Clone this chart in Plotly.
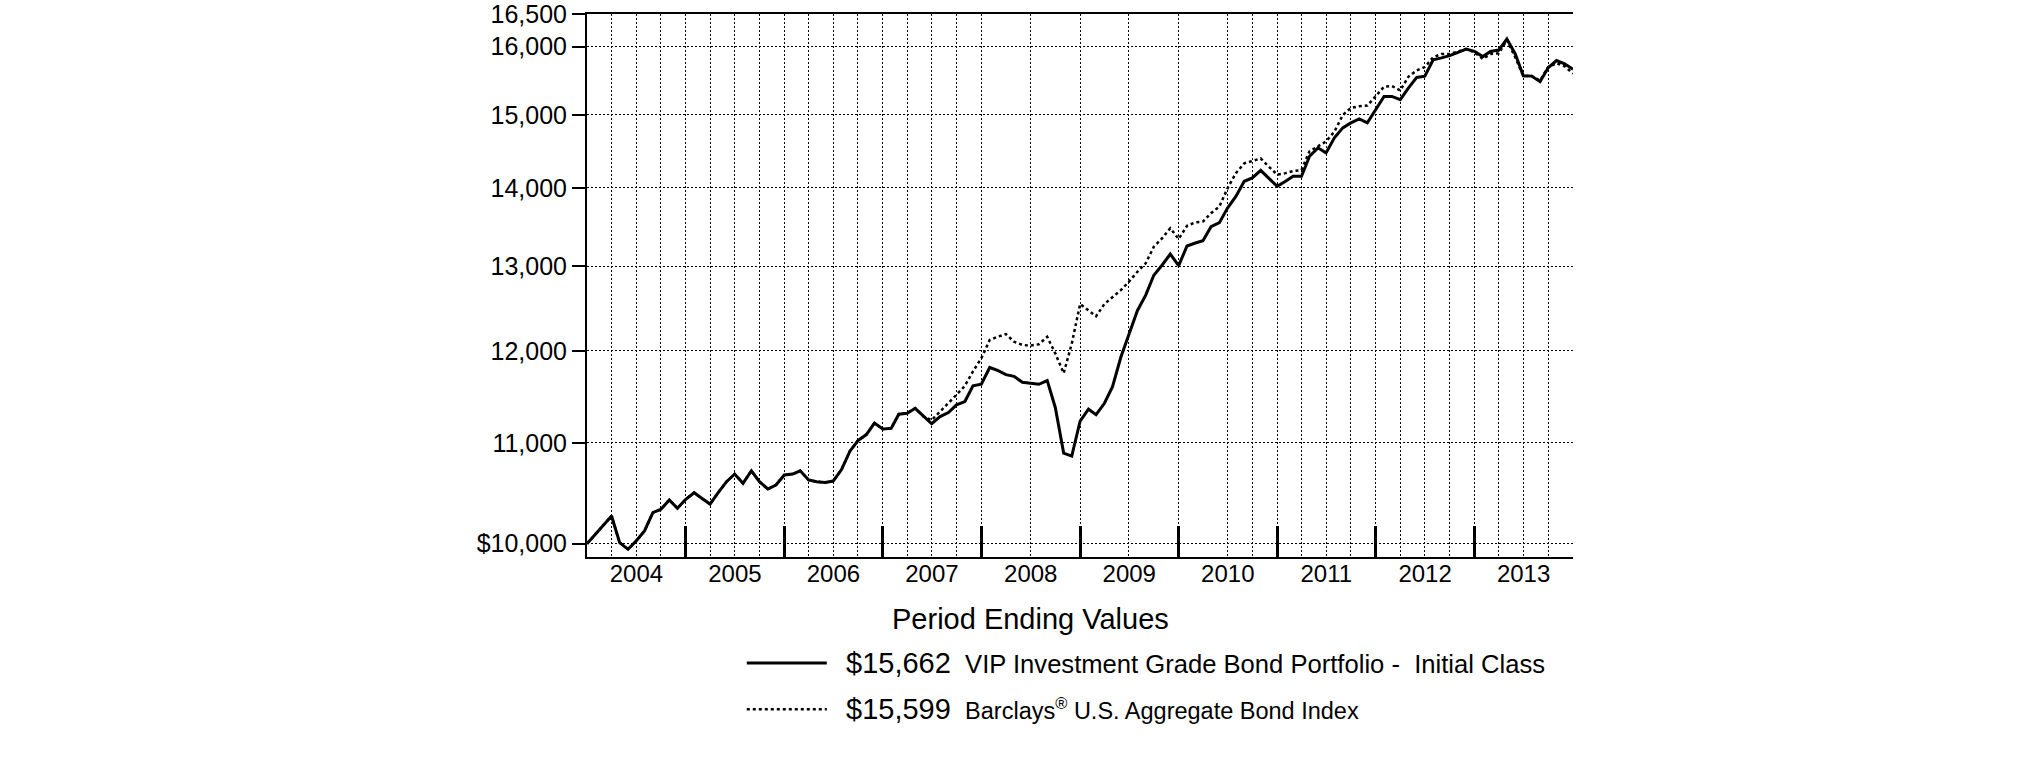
import plotly.graph_objects as go
import pandas as pd

# ---- data (month-end values, Dec 2003 .. Dec 2013) ----
dates = pd.date_range("2003-12-31", "2013-12-31", freq="ME")

fund = [10000, 10090, 10180, 10266, 10010, 9947, 10025, 10121, 10298, 10331, 10422, 10341,
        10429, 10494, 10439, 10382, 10494, 10604, 10681, 10588, 10714, 10604, 10531, 10571,
        10671, 10681, 10714, 10621, 10604, 10595, 10610, 10726, 10914, 11024, 11087, 11208,
        11145, 11152, 11302, 11313, 11366, 11277, 11201, 11277, 11320, 11403, 11439, 11610,
        11629, 11813, 11780, 11733, 11714, 11649, 11640, 11627, 11668, 11375, 10895, 10864,
        11230, 11356, 11297, 11420, 11600, 11930, 12190, 12465, 12650, 12889, 13015, 13151,
        13007, 13251, 13285, 13318, 13496, 13547, 13734, 13887, 14087, 14133, 14233, 14133,
        14020, 14087, 14155, 14155, 14425, 14540, 14471, 14678, 14817, 14887, 14943, 14887,
        15075, 15264, 15264, 15217, 15384, 15541, 15560, 15801, 15831, 15864, 15913, 15963,
        15928, 15850, 15928, 15948, 16116, 15889, 15565, 15560, 15479, 15683, 15790, 15742,
        15662]

index = fund[:42] + [
        11240, 11331, 11414, 11512, 11610, 11770,
        11917, 12124, 12161, 12192, 12105, 12068, 12060, 12075, 12161, 11972, 11749, 12082,
        12544, 12468, 12400, 12544, 12630, 12710, 12812, 12932, 13036, 13242, 13349, 13476,
        13340, 13506, 13548, 13561, 13669, 13755, 13993, 14196, 14328, 14358, 14394, 14283,
        14177, 14196, 14224, 14237, 14493, 14561, 14628, 14764, 14997, 15099, 15122, 15132,
        15264, 15406, 15416, 15349, 15550, 15645, 15694, 15840, 15889, 15889, 15928, 15963,
        15913, 15815, 15889, 15898, 16101, 15840, 15560, 15560, 15494, 15694, 15752, 15705,
        15599]

years = list(range(2004, 2014))
year_labels = [str(y) for y in years]
year_mid = [f"{y}-07-01" for y in years]
year_bounds = [f"{y - 1}-12-31" for y in years]

# vertical dotted grid positions (quarter ends as drawn in the original)
grid_dates = (["2004-03-31", "2004-06-30", "2004-09-30"] +
              [f"{y}-{md}" for y in (2005, 2006, 2007) for md in ("03-31", "06-30", "09-30")] +
              ["2008-06-30", "2009-06-30", "2010-06-30", "2010-09-30"] +
              [f"{y}-{md}" for y in (2011, 2012, 2013) for md in ("03-31", "06-30", "09-30")])

y_tickvals = [10000, 11000, 12000, 13000, 14000, 15000, 16000, 16500]
y_ticktext = ["$10,000", "11,000", "12,000", "13,000", "14,000", "15,000", "16,000", "16,500"]

fund_label = "$15,662"
index_label = "$15,599"
fund_name = "VIP Investment Grade Bond Portfolio -&nbsp; Initial Class"
index_name = "Barclays<sup>®</sup> U.S. Aggregate Bond Index"

FONT = "Liberation Sans, Arial, Helvetica, sans-serif"

fig = go.Figure()
fig.add_trace(go.Scatter(
    x=dates, y=fund, mode="lines",
    line=dict(color="black", width=3),
    name=f'&nbsp;&nbsp;<span style="font-size:29px">{fund_label}</span>&nbsp; {fund_name}',
    legendgroup="a", hoverinfo="skip"))
fig.add_trace(go.Scatter(
    x=dates, y=index, mode="lines",
    line=dict(color="black", width=2.5, dash="3px,3px"),
    name=(f'&nbsp;&nbsp;<span style="font-size:29px">{index_label}</span>&nbsp; '
          f'<span style="font-size:23.5px">{index_name}</span>'),
    legendgroup="b", hoverinfo="skip"))
# carrier for the year labels on the overlay axis
fig.add_trace(go.Scatter(x=year_mid, y=[fund[0]] * len(year_mid), xaxis="x2",
                         mode="none", showlegend=False, hoverinfo="skip"))

xr = ["2003-12-31", "2013-12-31"]
fig.update_layout(
    width=2025, height=761,
    margin=dict(l=587, r=452, t=14, b=204, autoexpand=False),
    paper_bgcolor="white", plot_bgcolor="white",
    font=dict(family=FONT, color="black"),
    xaxis=dict(
        type="date", range=xr, automargin=False,
        tickmode="array", tickvals=year_bounds,
        ticks="inside", ticklen=31, tickwidth=3, tickcolor="black",
        showticklabels=False,
        showgrid=True, gridcolor="black", gridwidth=1, griddash="2px,2px",
        minor=dict(tickmode="array", tickvals=grid_dates, ticks="",
                   showgrid=True, gridcolor="black", gridwidth=1, griddash="2px,2px"),
        showline=True, linecolor="black", linewidth=2, mirror=True,
        zeroline=False,
    ),
    xaxis2=dict(
        type="date", range=xr, overlaying="x", anchor="y", side="bottom",
        automargin=False,
        tickmode="array", tickvals=year_mid, ticktext=year_labels,
        ticks="", showgrid=False, showline=False, zeroline=False,
        tickfont=dict(size=24, family=FONT, color="black"),
    ),
    yaxis=dict(
        type="log", range=[3.99454, 4.21752], automargin=False,
        tickmode="array", tickvals=y_tickvals, ticktext=y_ticktext,
        ticks="outside", ticklen=13, tickwidth=2, tickcolor="black",
        tickfont=dict(size=25, family=FONT, color="black"),
        ticklabeloverflow="allow",
        showgrid=True, gridcolor="black", gridwidth=1, griddash="2px,2px",
        showline=True, linecolor="black", linewidth=2,
        zeroline=False,
    ),
    showlegend=True,
    legend=dict(
        x=0.157, y=-0.1525, xanchor="left", yanchor="top",
        font=dict(size=25.6, family=FONT, color="black"),
        itemwidth=80, tracegroupgap=10, bgcolor="rgba(0,0,0,0)",
    ),
    annotations=[dict(
        text="Period Ending Values", xref="paper", yref="paper",
        x=0.4493, y=-0.1142, xanchor="center", yanchor="middle",
        showarrow=False, font=dict(size=29, family=FONT, color="black"))],
)

fig.write_html("out.html", config={"displayModeBar": False},
               post_script="document.body.style.margin = '0px';")
